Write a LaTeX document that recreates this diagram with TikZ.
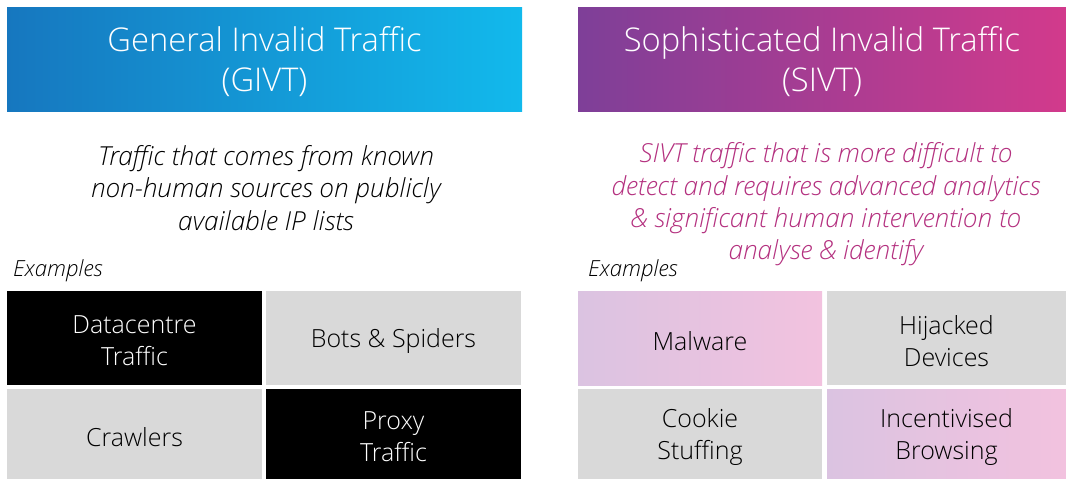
\documentclass[tikz,border=0pt]{standalone}
\usepackage{fontspec}
\IfFontExistsTF{Open Sans Light}{%
  \IfFontExistsTF{Open Sans Light Italic}{%
    \setmainfont{Open Sans Light}[ItalicFont={Open Sans Light Italic}]}{%
    \setmainfont{Open Sans Light}[ItalicFont={Open Sans Italic}]}}{%
  \setmainfont{Open Sans}}
\definecolor{givtL}{HTML}{1677BF}
\definecolor{givtR}{HTML}{12B9EC}
\definecolor{sivtL}{HTML}{7E3F98}
\definecolor{sivtR}{HTML}{D23A8C}
\definecolor{cellgray}{HTML}{D9D9D9}
\definecolor{lavL}{HTML}{DBC3E1}
\definecolor{lavR}{HTML}{F2C2DF}
\definecolor{sivttext}{HTML}{B4307F}
\begin{document}
\begin{tikzpicture}[x=1pt,y=-1pt,
  headtext/.style={inner sep=0pt, align=center, text=white, yshift=-3pt,
    font=\fontsize{32.7}{40}\selectfont},
  header/.style={inner sep=0pt, minimum height=104pt},
  celltext/.style={inner sep=0pt, align=center, yshift=-3pt,
    font=\fontsize{25}{32}\selectfont},
  cell/.style={inner sep=0pt},
  darkcell/.style={cell, fill=black},
  graycell/.style={cell, fill=cellgray},
  lavcell/.style={cell, left color=lavL, right color=lavR},
  desc/.style={align=center, inner sep=0pt,
    font=\itshape\fontsize{26.2}{32.4}\selectfont},
  examples/.style={anchor=west, inner sep=0pt,
    font=\itshape\fontsize{22.2}{24}\selectfont}]
\useasboundingbox (0,0) rectangle (1066,479);
\fill[white] (0,0) rectangle (1066,479);

% column headers
\node[header, left color=givtL, right color=givtR, minimum width=515pt,
  label={[headtext]center:General Invalid Traffic\\(GIVT)}] (givt) at (264.5,59) {};
\node[header, left color=sivtL, right color=sivtR, minimum width=488pt,
  label={[headtext]center:Sophisticated Invalid Traffic\\(SIVT)}] (sivt) at (822,59) {};

% descriptions
\node[desc] (givtdesc) at (266,188)
  {Traffic that comes from known\\non-human sources on publicly\\available IP lists};
\node[desc, text=sivttext] (sivtdesc) at (826,204.5)
  {SIVT traffic that is more difficult to\\detect and requires advanced analytics\\\& significant human intervention to\\analyse \& identify};

\node[examples] (givtex) at (13,271) {Examples};
\node[examples] (sivtex) at (588,271) {Examples};

% GIVT examples
\node[darkcell, minimum width=255pt, minimum height=94pt,
  label={[celltext, text=white]center:Datacentre\\Traffic}] (dc) at (134.5,338) {};
\node[graycell, minimum width=255pt, minimum height=94pt,
  label={[celltext]center:Bots \& Spiders}] (bots) at (393.5,338) {};
\node[graycell, minimum width=255pt, minimum height=90pt,
  label={[celltext]center:Crawlers}] (crawl) at (134.5,434) {};
\node[darkcell, minimum width=255pt, minimum height=90pt,
  label={[celltext, text=white]center:Proxy\\Traffic}] (proxy) at (393.5,434) {};

% SIVT examples
\node[lavcell, minimum width=244pt, minimum height=94pt,
  label={[celltext]center:Malware}] (mal) at (700,338) {};
\node[graycell, minimum width=239pt, minimum height=94pt,
  label={[celltext]center:Hijacked\\Devices}] (hij) at (946.5,338) {};
\node[graycell, minimum width=244pt, minimum height=90pt,
  label={[celltext]center:Cookie\\Stuffing}] (cookie) at (700,434) {};
\node[lavcell, minimum width=239pt, minimum height=90pt,
  label={[celltext]center:Incentivised\\Browsing}] (incent) at (946.5,434) {};
\end{tikzpicture}
\end{document}
